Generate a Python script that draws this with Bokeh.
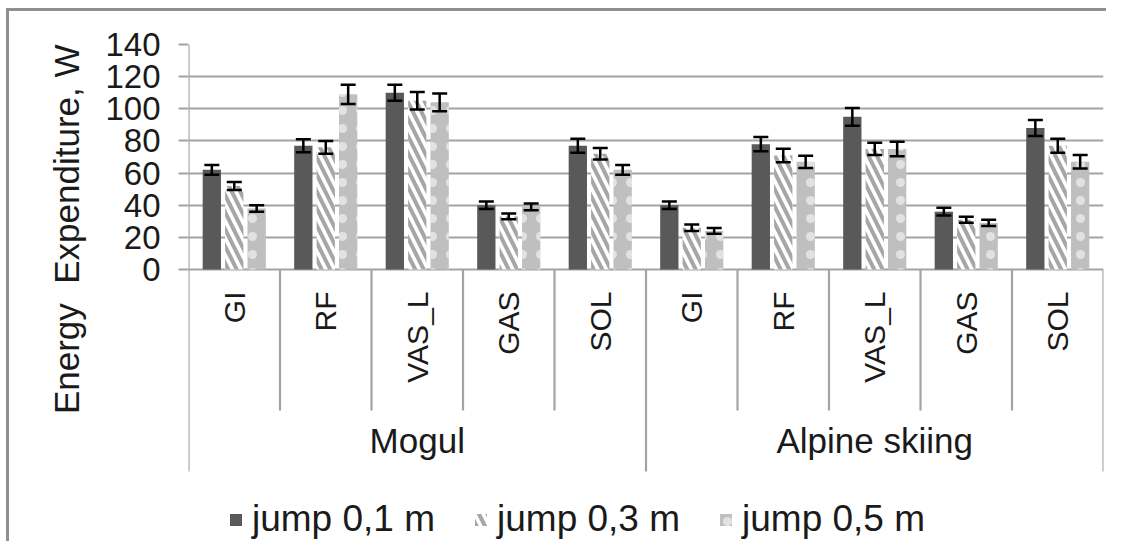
import math
from bokeh.plotting import figure
from bokeh.models import (FactorRange, ColumnDataSource, FixedTicker, Legend,
                          LegendItem, Title)
from bokeh.transform import dodge
from bokeh.core.properties import value
from bokeh.embed import file_html
from bokeh.resources import INLINE

# ---------------- data ----------------
groups = ["Mogul", "Alpine skiing"]
muscles = ["GI", "RF", "VAS_L", "GAS", "SOL"]
series = ["jump 0,1 m", "jump 0,3 m", "jump 0,5 m"]

mogul_01 = [62, 77, 110, 40, 77]
mogul_03 = [52, 76, 105, 33, 72]
mogul_05 = [38, 109, 104, 39, 62]
alpine_01 = [40, 78, 95, 36, 88]
alpine_03 = [26, 71, 75, 31, 77]
alpine_05 = [24, 67, 75, 29, 67]

mogul_01_err = [3.0, 4.0, 5.0, 2.3, 4.4]
mogul_03_err = [2.5, 4.0, 5.5, 1.8, 3.6]
mogul_05_err = [2.0, 6.0, 5.5, 2.1, 3.1]
alpine_01_err = [2.3, 4.4, 5.5, 2.4, 5.0]
alpine_03_err = [2.0, 4.2, 3.8, 1.9, 4.4]
alpine_05_err = [1.8, 3.8, 4.5, 2.0, 4.2]

y_ticks = [0, 20, 40, 60, 80, 100, 120, 140]
y_title = "Energy\u00a0 Expenditure, W"

# ---------------- build source ----------------
x = [(g, m) for g in groups for m in muscles]
v1 = mogul_01 + alpine_01
v2 = mogul_03 + alpine_03
v3 = mogul_05 + alpine_05
e1 = mogul_01_err + alpine_01_err
e2 = mogul_03_err + alpine_03_err
e3 = mogul_05_err + alpine_05_err

src = ColumnDataSource(dict(
    x=x, v1=v1, v2=v2, v3=v3,
    lo1=[a - b for a, b in zip(v1, e1)], hi1=[a + b for a, b in zip(v1, e1)],
    lo2=[a - b for a, b in zip(v2, e2)], hi2=[a + b for a, b in zip(v2, e2)],
    lo3=[a - b for a, b in zip(v3, e3)], hi3=[a + b for a, b in zip(v3, e3)],
))

FONT = value("Liberation Sans")
GRID = "#a3a3a3"
TXT = "#1a1a1a"

# layout (pixels) -> data units below zero
PX_PER_UNIT = 225 / 140.0
TABLE_BOTTOM = -202 / PX_PER_UNIT     # bottom of the category table
INNER_BOTTOM = -141 / PX_PER_UNIT     # bottom of the muscle separators
FRAME_BOTTOM = -272 / PX_PER_UNIT

W, H = 1100, 533
p = figure(
    x_range=FactorRange(*x, group_padding=0, subgroup_padding=0,
                        factor_padding=0, range_padding=0),
    y_range=(FRAME_BOTTOM, 140),
    width=W, height=H, output_backend="svg", toolbar_location=None,
    min_border_left=179, min_border_right=6, min_border_top=33,
    min_border_bottom=3,
)
p.styles = {"box-shadow": "-3px -3px 0px 0px #8f8f8f",
            "margin-left": "9px", "margin-top": "11px"}
p.outline_line_color = None
p.background_fill_color = "white"
p.border_fill_color = "white"

p.xaxis.visible = False
p.xgrid.grid_line_color = None

p.yaxis.ticker = FixedTicker(ticks=y_ticks)
p.ygrid.ticker = FixedTicker(ticks=y_ticks)
p.ygrid.grid_line_color = GRID
p.ygrid.grid_line_width = 2.2
p.yaxis.axis_line_color = None
p.yaxis.major_tick_line_color = GRID
p.yaxis.major_tick_line_width = 2.2
p.yaxis.major_tick_out = 10
p.yaxis.major_tick_in = 0
p.yaxis.minor_tick_line_color = None
p.yaxis.major_label_standoff = 18
p.yaxis.major_label_text_font = "Liberation Sans"
p.yaxis.major_label_text_font_size = "33px"
p.yaxis.major_label_text_color = TXT

t = Title(text=y_title, align="right", standoff=33,
          text_font="Liberation Sans", text_font_size="35px",
          text_font_style="normal", text_color=TXT)
p.add_layout(t, "left")

OFF = 0.245
BW = 0.2
r1 = p.vbar(x=dodge("x", -OFF, range=p.x_range), top="v1", width=BW, source=src,
            fill_color="#595959", line_color=None)
r2 = p.vbar(x=dodge("x", 0, range=p.x_range), top="v2", width=BW, source=src,
            fill_color="white", line_color=None, hatch_pattern="left_diagonal_line",
            hatch_color="#a6a6a6", hatch_weight=4, hatch_scale=17)
r3 = p.vbar(x=dodge("x", OFF, range=p.x_range), top="v3", width=BW, source=src,
            fill_color="#bfbfbf", line_color=None, hatch_pattern="dot",
            hatch_color="white", hatch_alpha=0.55, hatch_weight=1, hatch_scale=18)

for off, lo, hi in [(-OFF, "lo1", "hi1"), (0, "lo2", "hi2"), (OFF, "lo3", "hi3")]:
    xd = dodge("x", off, range=p.x_range)
    p.segment(x0=xd, y0=lo, x1=xd, y1=hi, source=src, line_color="black", line_width=2.5)
    p.scatter(x=xd, y=lo, source=src, marker="dash", size=15, line_color="black", line_width=2.5)
    p.scatter(x=xd, y=hi, source=src, marker="dash", size=15, line_color="black", line_width=2.5)

# category table: separators (and the value axis line) and labels
inner = [(g, m) for g in groups for m in muscles[1:]]
sep_inner = ColumnDataSource(dict(x=inner, y0=[0] * len(inner), y1=[INNER_BOTTOM] * len(inner)))
sep_axis = ColumnDataSource(dict(x=[(groups[0], muscles[0])], y0=[y_ticks[-1]], y1=[TABLE_BOTTOM]))
sep_mid = ColumnDataSource(dict(x=[(groups[1], muscles[0])], y0=[0], y1=[TABLE_BOTTOM]))
sep_right = ColumnDataSource(dict(x=[(groups[-1], muscles[-1])], y0=[0], y1=[TABLE_BOTTOM]))
for s, off in [(sep_inner, -0.5), (sep_axis, -0.5), (sep_mid, -0.5), (sep_right, 0.5)]:
    xd = dodge("x", off, range=p.x_range)
    p.segment(x0=xd, y0="y0", x1=xd, y1="y1", source=s, line_color=GRID, line_width=2.2)

lab_src = ColumnDataSource(dict(x=x, t=[m for g, m in x], y=[-22 / PX_PER_UNIT] * len(x)))
p.text(x="x", y="y", text="t", source=lab_src, angle=math.pi / 2,
       text_align="right", text_baseline="middle", text_font=FONT,
       text_font_size="30px", text_color=TXT)

grp_src = ColumnDataSource(dict(x=groups, y=[-171 / PX_PER_UNIT] * len(groups), t=groups))
p.text(x="x", y="y", text="t", source=grp_src, text_align="center",
       text_baseline="middle", text_font=FONT, text_font_size="35px",
       text_color=TXT)

legend = Legend(items=[LegendItem(label=series[0], renderers=[r1]),
                       LegendItem(label=series[1], renderers=[r2]),
                       LegendItem(label=series[2], renderers=[r3])],
                orientation="horizontal", location=(40, 1),
                label_text_font="Liberation Sans", label_text_font_size="37px",
                label_text_color=TXT, glyph_width=15, glyph_height=15,
                spacing=38, label_standoff=9, border_line_color=None,
                background_fill_alpha=0, padding=0, margin=0)
p.add_layout(legend, "center")

open("out.html", "w").write(file_html(p, INLINE))
